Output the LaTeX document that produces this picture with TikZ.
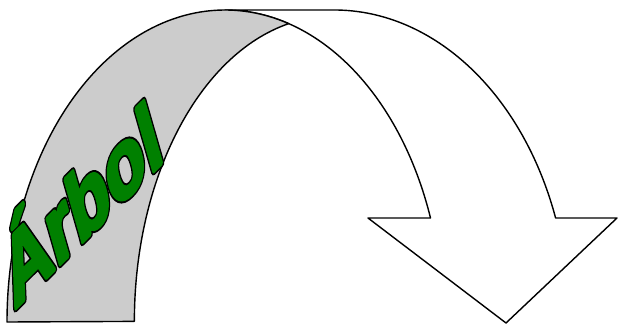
\documentclass[tikz,border=0pt]{standalone}
\usepackage{fontspec}
\setmainfont{Liberation Sans}
\usepackage{tikz}
\definecolor{arbgreen}{RGB}{0,128,0}
\definecolor{arbgray}{RGB}{204,204,204}
\newcommand{\outlined}[1]{\rlap{\special{pdf:literal direct 2 Tr 1 j 0 g 0 G 4.2 w}#1}%
  \special{pdf:literal direct 2 Tr 1 j 0 0.502 0 rg 0 0.502 0 RG 2.2 w}#1\special{pdf:literal direct 0 Tr}}

\begin{document}
\begin{tikzpicture}[x=0.02cm, y=0.02cm, band/.style={draw=black,line width=0.8pt,line join=round}]
  \useasboundingbox (0,0) rectangle (618,325);
  \draw[band,fill=white] (430.5,107) -- (368,107) -- (506,2) -- (617,107) -- (555.6,107)
    arc[start angle=19.47,end angle=90,x radius=235,y radius=312] -- (225,315)
    arc[start angle=90,end angle=19.47,x radius=218,y radius=312] -- cycle;
  \draw[band,fill=arbgray] (7,3)
    arc[start angle=180,end angle=73,x radius=218,y radius=312]
    arc[start angle=102.5,end angle=180,x radius=197,y radius=305] -- cycle;
  \node[font=\fontsize{51}{51}\selectfont\bfseries,text=arbgreen,rotate=16,yslant=0.55,xscale=0.8,
    anchor=base west,inner sep=0pt] (word) at (14,15) {\outlined{Árbol}};
\end{tikzpicture}
\end{document}
